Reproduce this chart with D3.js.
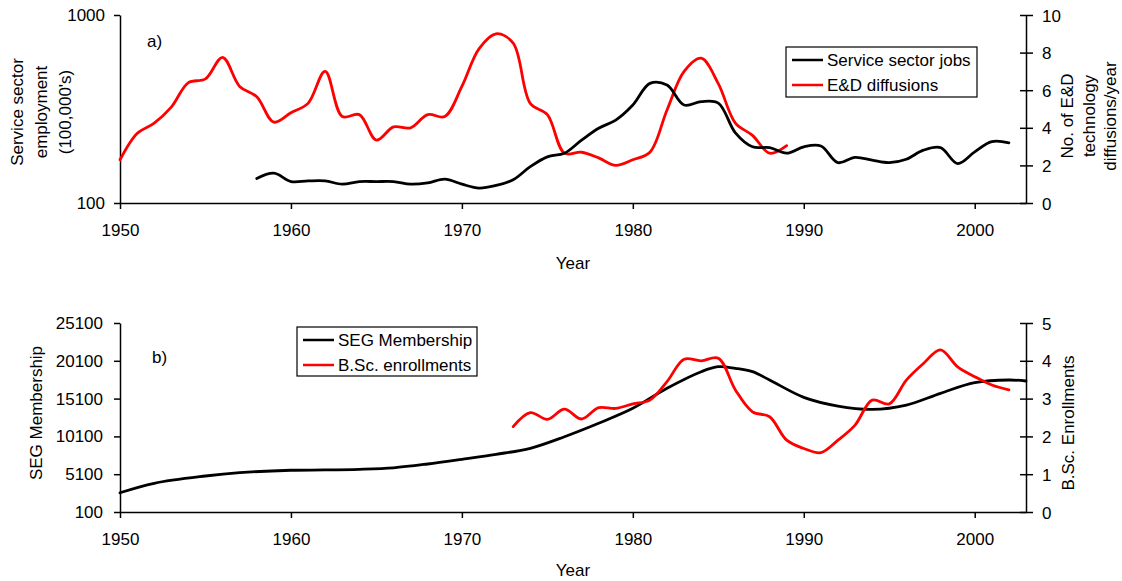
<!DOCTYPE html>
<html><head><meta charset="utf-8">
<script src="https://cdn.jsdelivr.net/npm/d3@7"></script>
<style>body{margin:0;background:#fff}svg{display:block}text{font-family:Arial,"Liberation Sans",sans-serif;fill:#000}</style>
</head><body><svg id="c" width="1122" height="581"></svg>
<script>
// ---- Data ----
const xTicks = [1950, 1960, 1970, 1980, 1990, 2000];
const serviceYears = [1958,1959,1960,1961,1962,1963,1964,1965,1966,1967,1968,1969,1970,1971,1972,1973,1974,1975,1976,1977,1978,1979,1980,1981,1982,1983,1984,1985,1986,1987,1988,1989,1990,1991,1992,1993,1994,1995,1996,1997,1998,1999,2000,2001,2002];
const serviceJobs = [135,144,130,131,131,126,130,130,130,126,128,134,126,120,124,133,156,176,184,216,250,276,332,433,424,332,346,340,236,199,197,184,199,201,164,175,169,164,171,191,197,162,187,212,209];
const edYears = [1950,1951,1952,1953,1954,1955,1956,1957,1958,1959,1960,1961,1962,1963,1964,1965,1966,1967,1968,1969,1970,1971,1972,1973,1974,1975,1976,1977,1978,1979,1980,1981,1982,1983,1984,1985,1986,1987,1988,1989];
const edDiffusions = [2.3,3.7,4.25,5.1,6.4,6.6,7.75,6.2,5.65,4.3,4.8,5.3,7.0,4.6,4.7,3.35,4.05,4.0,4.7,4.6,6.2,8.2,9.0,8.5,5.3,4.7,2.65,2.7,2.4,2.0,2.3,2.7,4.95,7.0,7.7,6.35,4.25,3.6,2.65,3.05];
const segYears = [1950,1952,1955,1957,1960,1962,1964,1966,1968,1970,1972,1974,1976,1978,1980,1982,1984,1985,1986,1987,1988,1990,1992,1994,1996,1998,2000,2002,2003];
const segMembership = [2650,3900,4860,5300,5620,5660,5750,5950,6450,7070,7730,8530,10060,11840,13820,16470,18660,19320,19100,18660,17560,15270,14120,13680,14250,15800,17200,17560,17430];
const bscYears = [1973,1974,1975,1976,1977,1978,1979,1980,1981,1982,1983,1984,1985,1986,1987,1988,1989,1990,1991,1992,1993,1994,1995,1996,1997,1998,1999,2000,2001,2002];
const bscEnrollments = [2.26,2.63,2.45,2.72,2.46,2.76,2.74,2.86,2.96,3.45,4.04,4.0,4.07,3.23,2.65,2.52,1.9,1.68,1.57,1.9,2.3,2.96,2.86,3.49,3.93,4.29,3.84,3.58,3.36,3.23];
const topLeftTicks = [100, 1000];
const topRightTicks = [0,2,4,6,8,10];
const botLeftTicks = [100,5100,10100,15100,20100,25100];
const botRightTicks = [0,1,2,3,4,5];

// ---- Drawing ----
const svg = d3.select("#c");
const FS = 17;
const x = d3.scaleLinear().domain([1950, 2003]).range([120, 1026]);

function panel(o) {
  const g = svg.append("g");
  const yL = o.yL, yR = o.yR;
  const ax = g.append("g").attr("transform", `translate(0,${o.bottom})`)
    .call(d3.axisBottom(x).tickValues(xTicks).tickFormat(d3.format("d")).tickSize(6).tickSizeOuter(0));
  const al = g.append("g").attr("transform", "translate(120,0)")
    .call(d3.axisLeft(yL).tickValues(o.leftTicks).tickFormat(d3.format("d")).tickSize(6).tickSizeOuter(0));
  const ar = g.append("g").attr("transform", "translate(1026,0)")
    .call(d3.axisRight(yR).tickValues(o.rightTicks).tickFormat(d3.format("d")).tickSize(7).tickSizeOuter(0));
  ar.selectAll(".tick line").attr("x1", -6);
  [ax, al, ar].forEach(a => {
    a.selectAll("path,line").attr("stroke", "#000").attr("stroke-width", 1.5);
    a.selectAll("text").style("font-size", FS + "px").attr("fill", "#000");
  });
  ax.selectAll("text").attr("dy", "1.4em");
  ar.selectAll("text").attr("x", 16).attr("dy", "0.36em");
  al.selectAll("text").attr("x", o.leftLabelX);
  return g;
}

function line(g, xs, ys, ysc, color) {
  const data = xs.map((d, i) => [d, ys[i]]);
  g.append("path").datum(data)
    .attr("fill", "none").attr("stroke", color).attr("stroke-width", 2.8)
    .attr("stroke-linejoin", "round").attr("stroke-linecap", "round")
    .attr("d", d3.line().x(d => x(d[0])).y(d => ysc(d[1])).curve(d3.curveCatmullRom.alpha(0.5)));
}

function vlabel(g, lines, cx, cy, gap) {
  const n = lines.length;
  lines.forEach((t, i) => {
    const xx = cx + (i - (n - 1) / 2) * gap;
    g.append("text").attr("transform", `translate(${xx},${cy}) rotate(-90)`)
      .attr("text-anchor", "middle").attr("dy", "0.35em").style("font-size", FS + "px").text(t);
  });
}

function legend(g, x0, y0, w, h, items) {
  g.append("rect").attr("x", x0).attr("y", y0).attr("width", w).attr("height", h)
    .attr("fill", "#fff").attr("stroke", "#000").attr("stroke-width", 1.2);
  items.forEach((it, i) => {
    const yy = y0 + 13 + i * 25;
    g.append("line").attr("x1", x0 + 6).attr("x2", x0 + 37).attr("y1", yy).attr("y2", yy)
      .attr("stroke", it.c).attr("stroke-width", 2.5);
    g.append("text").attr("x", x0 + 41).attr("y", yy).attr("dy", "0.36em")
      .style("font-size", FS + "px").text(it.t);
  });
}

// Panel a
const yA = d3.scaleLog().domain([100, 1000]).range([203, 15]);
const yAR = d3.scaleLinear().domain([0, 10]).range([203, 15]);
const ga = panel({ yL: yA, yR: yAR, bottom: 203, leftTicks: topLeftTicks, rightTicks: topRightTicks, leftLabelX: -15 });
line(ga, edYears, edDiffusions, yAR, "#ff0000");
line(ga, serviceYears, serviceJobs, yA, "#000");
ga.append("text").attr("x", 147).attr("y", 47).style("font-size", FS + "px").text("a)");
ga.append("text").attr("x", 573).attr("y", 269).attr("text-anchor", "middle").style("font-size", FS + "px").text("Year");
vlabel(ga, ["Service sector", "employment", "(100,000's)"], 41, 112, 24);
vlabel(ga, ["No. of E&D", "technology", "diffusions/year"], 1089, 116, 21.5);
legend(ga, 786, 47, 191, 50, [{ t: "Service sector jobs", c: "#000" }, { t: "E&D diffusions", c: "#ff0000" }]);

// Panel b
const yB = d3.scaleLinear().domain([100, 25100]).range([512, 323]);
const yBR = d3.scaleLinear().domain([0, 5]).range([512, 323]);
const gb = panel({ yL: yB, yR: yBR, bottom: 512, leftTicks: botLeftTicks, rightTicks: botRightTicks, leftLabelX: -17 });
line(gb, segYears, segMembership, yB, "#000");
line(gb, bscYears, bscEnrollments, yBR, "#ff0000");
gb.append("text").attr("x", 152).attr("y", 363).style("font-size", FS + "px").text("b)");
gb.append("text").attr("x", 573).attr("y", 576).attr("text-anchor", "middle").style("font-size", FS + "px").text("Year");
vlabel(gb, ["SEG Membership"], 36, 413, 24);
vlabel(gb, ["B.Sc. Enrollments"], 1068, 423, 24);
legend(gb, 297, 327, 180, 49, [{ t: "SEG Membership", c: "#000" }, { t: "B.Sc. enrollments", c: "#ff0000" }]);
</script></body></html>
